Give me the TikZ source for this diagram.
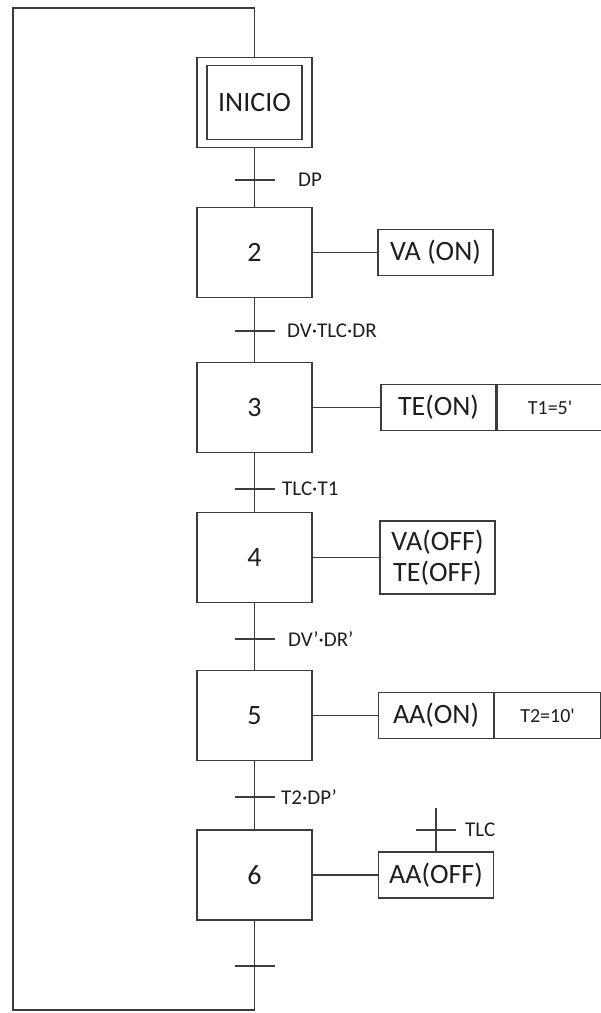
\documentclass[tikz,border=0pt]{standalone}
\usepackage{fontspec}
\setmainfont{Carlito}
\definecolor{linea}{HTML}{3C3C3C}
\definecolor{texto}{HTML}{1E1E1E}
\tikzset{
  etapa/.style={draw=linea,line width=1.1pt,minimum width=115pt,minimum height=90pt,
    inner sep=0pt,text=texto,font=\fontsize{28}{30}\selectfont},
  accion/.style={draw=linea,line width=1.1pt,minimum width=115pt,minimum height=46pt,
    inner sep=0pt,text=texto,align=center,font=\fontsize{28}{31}\selectfont},
  tiempo/.style={draw=linea,line width=1.1pt,minimum width=106pt,minimum height=46pt,
    inner sep=0pt,text=texto,font=\fontsize{20}{22}\selectfont},
  cond/.style={anchor=west,inner sep=0pt,text=texto,font=\fontsize{21}{23}\selectfont},
  enlace/.style={draw=linea,line width=1.1pt}
}
\begin{document}
\begin{tikzpicture}[x=1pt,y=-1pt,line cap=butt,line join=miter]
\useasboundingbox (0,0) rectangle (601,1013);
\coordinate (T1) at (254.5,180);
\coordinate (T2) at (254.5,331);
\coordinate (T3) at (254.5,489);
\coordinate (T4) at (254.5,639);
\coordinate (T5) at (254.5,797);
\coordinate (T6) at (254.5,966);
\coordinate (R6) at (436,830);
\coordinate (R6a) at (436,808);
\coordinate (fin) at (254.5,1010);
\coordinate (lazoI) at (13,1010);
\coordinate (lazoS) at (13,8);
\coordinate (arriba) at (254.5,8);

% Steps of the sequence.
\node[etapa] (inicio) at (254.5,102.5) {};
\node[draw=linea,line width=1.1pt,minimum width=95pt,minimum height=74pt,inner sep=0pt,
  text=texto,font=\fontsize{28}{30}\selectfont] (inicioIn) at (inicio) {INICIO};
\node[etapa] (e2) at (254.5,252.5) {2};
\node[etapa] (e3) at (254.5,407.5) {3};
\node[etapa] (e4) at (254.5,557.5) {4};
\node[etapa] (e5) at (254.5,715.5) {5};
\node[etapa] (e6) at (254.5,875)   {6};

% Actions attached to the steps.
\node[accion] (a2) at (435.5,252.5) {VA (ON)};
\node[accion] (a3) at (438.5,407.5) {TE(ON)};
\node[tiempo,anchor=west] (t3) at (a3.east) {T1=5\textquotesingle};
\node[accion,minimum height=73pt] (a4) at (437.5,557.5) {VA(OFF)\\TE(OFF)};
\node[accion] (a5) at (436,715.5) {AA(ON)};
\node[tiempo,anchor=west] (t5) at (a5.east) {T2=10\textquotesingle};
\node[accion] (a6) at (436,875) {AA(OFF)};

% Links between steps.
\draw[enlace] (inicio.south) -- (e2.north);
\draw[enlace] (e2.south) -- (e3.north);
\draw[enlace] (e3.south) -- (e4.north);
\draw[enlace] (e4.south) -- (e5.north);
\draw[enlace] (e5.south) -- (e6.north);
\draw[enlace] (e6.south) -- (fin) -- (lazoI) -- (lazoS) -- (arriba) -- (inicio.north);

% Links to the actions.
\draw[enlace] (e2.east) -- (a2.west);
\draw[enlace] (e3.east) -- (a3.west);
\draw[enlace] (e4.east) -- (a4.west);
\draw[enlace] (e5.east) -- (a5.west);
\draw[enlace] (e6.east) -- (a6.west);
\draw[enlace] (a6.north) -- (R6a);

% Transition bars.
\foreach \t in {T1,T2,T3,T4,T5,T6,R6}
  \draw[enlace] ([xshift=-20pt]\t) -- ([xshift=20pt]\t);

\node[cond] (c1) at (298,180) {DP};
\node[cond] (c2) at (287,331) {DV·TLC·DR};
\node[cond] (c3) at (282,489) {TLC·T1};
\node[cond] (c4) at (288,639) {DV’·DR’};
\node[cond] (c5) at (281,797) {T2·DP’};
\node[cond] (c6) at (465,830) {TLC};
\end{tikzpicture}
\end{document}
